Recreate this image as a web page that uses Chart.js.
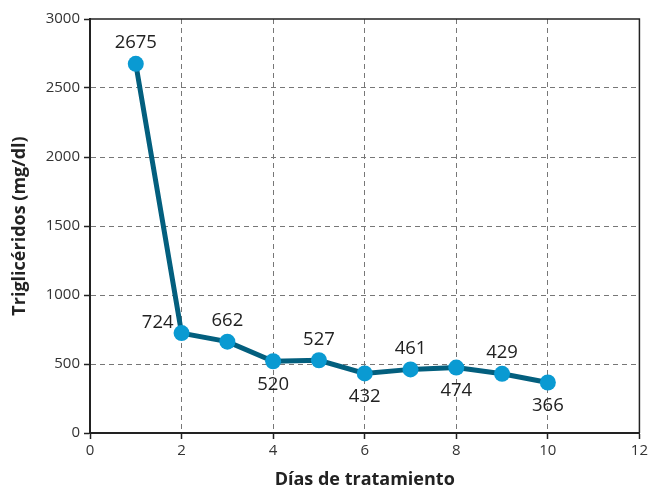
<!DOCTYPE html>
<html><head><meta charset="utf-8">
<script src="https://cdn.jsdelivr.net/npm/chart.js@4/dist/chart.umd.min.js"></script>
<style>html,body{margin:0;padding:0;background:#fff}#wrap{width:651px;height:491px}</style>
</head><body><div id="wrap"><canvas id="c" width="651" height="491"></canvas></div>
<script>
const days = [1, 2, 3, 4, 5, 6, 7, 8, 9, 10];
const trigliceridos = [2675, 724, 662, 520, 527, 432, 461, 474, 429, 366];
const xTicks = [0, 2, 4, 6, 8, 10, 12];
const yTicks = [0, 500, 1000, 1500, 2000, 2500, 3000];
const xTitle = 'Días de tratamiento';
const yTitle = 'Triglicéridos (mg/dl)';

const FONT = "'Open Sans', 'Noto Sans', sans-serif";

const labelPlugin = {
  id: 'valueLabels',
  afterDatasetsDraw(chart) {
    const ctx = chart.ctx;
    const meta = chart.getDatasetMeta(0);
    const place = ['above','left','above','below','above','below','above','below','above','below'];
    ctx.save();
    ctx.font = "18.5px " + FONT;
    ctx.fillStyle = '#222';
    ctx.textBaseline = 'middle';
    meta.data.forEach((pt, i) => {
      const v = chart.data.datasets[0].data[i].y;
      let x = pt.x, y = pt.y;
      ctx.textAlign = 'center';
      if (place[i] === 'above') y -= 21;
      else if (place[i] === 'below') y += 23;
      else { ctx.textAlign = 'right'; x -= 8; y -= 10; }
      ctx.fillText(String(v), x, y);
    });
    ctx.restore();
  }
};

const framePlugin = {
  id: 'frame',
  beforeDatasetsDraw(chart) {
    const {ctx, chartArea: a} = chart;
    ctx.save();
    ctx.strokeStyle = '#222';
    ctx.lineWidth = 1.5;
    ctx.beginPath();
    ctx.moveTo(a.left, a.top); ctx.lineTo(a.right, a.top); ctx.lineTo(a.right, a.bottom);
    ctx.stroke();
    ctx.restore();
  }
};

new Chart(document.getElementById('c'), {
  type: 'line',
  data: {
    datasets: [{
      data: days.map((d, i) => ({x: d, y: trigliceridos[i]})),
      borderColor: '#035f7e',
      borderWidth: 5,
      backgroundColor: '#0a9ad2',
      pointBackgroundColor: '#0a9ad2',
      pointBorderWidth: 0,
      pointRadius: 8,
      tension: 0
    }]
  },
  options: {
    responsive: false,
    animation: false,
    layout: {padding: {top: 19, right: 8, left: 0, bottom: 0}},
    plugins: {legend: {display: false}, tooltip: {enabled: false}},
    scales: {
      x: {
        type: 'linear', min: 0, max: 12,
        afterBuildTicks: s => { s.ticks = xTicks.map(v => ({value: v})); },
        afterFit: s => { s.height = 58; },
        ticks: {color: '#333', font: {family: FONT, size: 15}, padding: 3, callback: v => String(v)},
        grid: {color: c => (c.tick && (c.tick.value === 0 || c.tick.value === 12)) ? 'rgba(0,0,0,0)' : '#777', lineWidth: 1, tickLength: 6, tickColor: '#222', tickWidth: 1.5, tickBorderDash: []},
        border: {display: true, color: '#222', width: 2, dash: [5, 4]},
        title: {display: true, text: xTitle, color: '#222', font: {family: FONT, size: 18, weight: 'bold'}, padding: {top: 0, bottom: 0}}
      },
      y: {
        type: 'linear', min: 0, max: 3000,
        afterBuildTicks: s => { s.ticks = yTicks.map(v => ({value: v})); },
        afterFit: s => { s.width = 90; },
        ticks: {color: '#333', font: {family: FONT, size: 15}, padding: 4, callback: v => String(v)},
        grid: {color: c => (c.tick && (c.tick.value === 0 || c.tick.value === 3000)) ? 'rgba(0,0,0,0)' : '#777', lineWidth: 1, tickLength: 6, tickColor: '#222', tickWidth: 1.5, tickBorderDash: []},
        border: {display: true, color: '#222', width: 2, dash: [5, 4]},
        title: {display: true, text: yTitle, color: '#222', font: {family: FONT, size: 18, weight: 'bold'}, padding: {top: 9, bottom: 0}}
      }
    }
  },
  plugins: [framePlugin, labelPlugin]
});
</script>
</body></html>
